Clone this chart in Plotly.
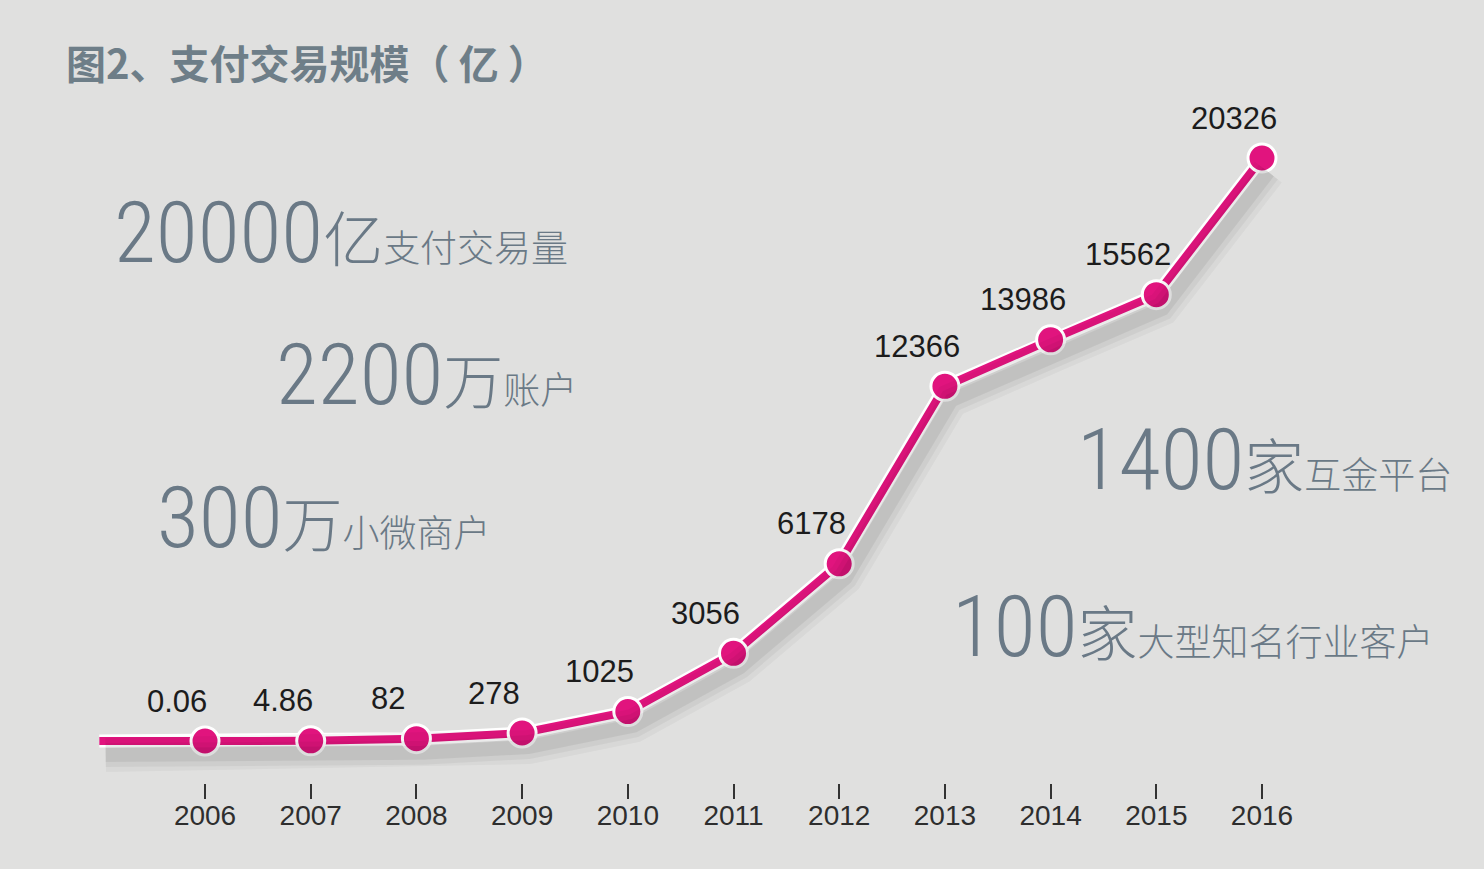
import plotly.graph_objects as go

# ---- data ----
years = [2006, 2007, 2008, 2009, 2010, 2011, 2012, 2013, 2014, 2015, 2016]
volume = [0.06, 4.86, 82, 278, 1025, 3056, 6178, 12366, 13986, 15562, 20326]
value_labels = ["0.06", "4.86", "82", "278", "1025", "3056", "6178", "12366", "13986", "15562", "20326"]
lead_in_years = [2005, 2006]
lead_in_values = [0, 0.06]
tick_years = [2006, 2007, 2008, 2009, 2010, 2011, 2012, 2013, 2014, 2015, 2016]
tick_text = [str(y) for y in tick_years]

title_text = "图2、支付交易规模（ 亿 ）"
facts_big = ["20000亿", "2200万", "300万", "1400家", "100家"]
facts_small = ["支付交易量", "账户", "小微商户", "互金平台", "大型知名行业客户"]

# ---- styles ----
BG = "#e0e0df"
PINK = "#e1147e"
SLATE = "#6a7986"
W, H = 1484, 869
ML, MR, MT, MB = 60, 44, 100, 86
XR = [2004.628, 2017.684]
YR = [-1464, 22348]

fig = go.Figure()

all_x = lead_in_years + years[1:]
all_y = lead_in_values + volume[1:]

# soft shadow on shifted overlay axes
for w, a in [(34, 0.035), (24, 0.045), (14, 0.06)]:
    fig.add_trace(go.Scatter(x=all_x, y=all_y, mode="lines", xaxis="x2", yaxis="y2",
                             line=dict(color=f"rgba(0,0,0,{a})", width=w),
                             hoverinfo="skip", showlegend=False))

# white outline of the line
fig.add_trace(go.Scatter(x=all_x, y=all_y, mode="lines",
                         line=dict(color="white", width=13),
                         hoverinfo="skip", showlegend=False))
# pink line
fig.add_trace(go.Scatter(x=all_x, y=all_y, mode="lines",
                         line=dict(color=PINK, width=8),
                         hoverinfo="skip", showlegend=False))
# markers
fig.add_trace(go.Scatter(x=years, y=volume, mode="markers",
                         marker=dict(size=28, color=PINK, line=dict(color="white", width=3)),
                         showlegend=False))

# data labels
for x, y, t in zip(years, volume, value_labels):
    fig.add_annotation(x=x, y=y, text=t, showarrow=False, xshift=-28, yshift=40,
                       font=dict(family="Liberation Sans, Arial", size=31, color="#1c1c1c"))

# big fact texts
fact_pos = [  # (left px, bottom px)
    (112, 285), (274, 427), (155, 570), (1075, 512), (950, 679)
]
num_style = ("font-family:Roboto Condensed, Noto Sans;"
             "font-stretch:condensed;font-weight:300;font-size:86px")
unit_style = "font-family:Noto Sans CJK SC;font-weight:300;font-size:60px"
small_style = "font-family:Noto Sans CJK SC;font-weight:300;font-size:37px"
for (px, py), big, small in zip(fact_pos, facts_big, facts_small):
    num = big[:-1]
    unit = big[-1]
    txt = (f"<span style='{num_style}'>{num}</span>"
           f"<span style='{unit_style}'>{unit}</span>"
           f"<span style='{small_style}'>{small}</span>")
    fig.add_annotation(xref="paper", yref="paper",
                       x=(px - ML) / (W - ML - MR), y=(H - MB - py) / (H - MT - MB),
                       xanchor="left", yanchor="bottom", text=txt, showarrow=False,
                       font=dict(color=SLATE, family="Noto Sans CJK SC", size=37))

fig.update_layout(
    width=W, height=H,
    paper_bgcolor=BG, plot_bgcolor=BG,
    margin=dict(l=ML, r=MR, t=MT, b=MB),
    title=dict(text=title_text, xref="container", yref="container",
               x=66 / W, y=1 - 65 / H, xanchor="left", yanchor="middle",
               font=dict(family="Noto Sans CJK SC", size=40, color="#6e7e88", weight="bold")),
    xaxis=dict(range=XR, tickmode="array", tickvals=tick_years, ticktext=tick_text,
               showgrid=False, zeroline=False, showline=False,
               ticks="outside", ticklen=15, tickwidth=2, tickcolor="#333333",
               ticklabelstandoff=-8,
               tickfont=dict(family="Liberation Sans, Arial", size=28, color="#2e2e2e")),
    yaxis=dict(range=YR, visible=False, showgrid=False, zeroline=False),
    xaxis2=dict(range=[XR[0] - 0.06, XR[1] - 0.06], overlaying="x", visible=False),
    yaxis2=dict(range=[YR[0] + 490, YR[1] + 490], overlaying="y", visible=False),
    showlegend=False,
)

fig.write_html("out.html", config={"displayModeBar": False},
               post_script="document.body.style.margin='0';")
